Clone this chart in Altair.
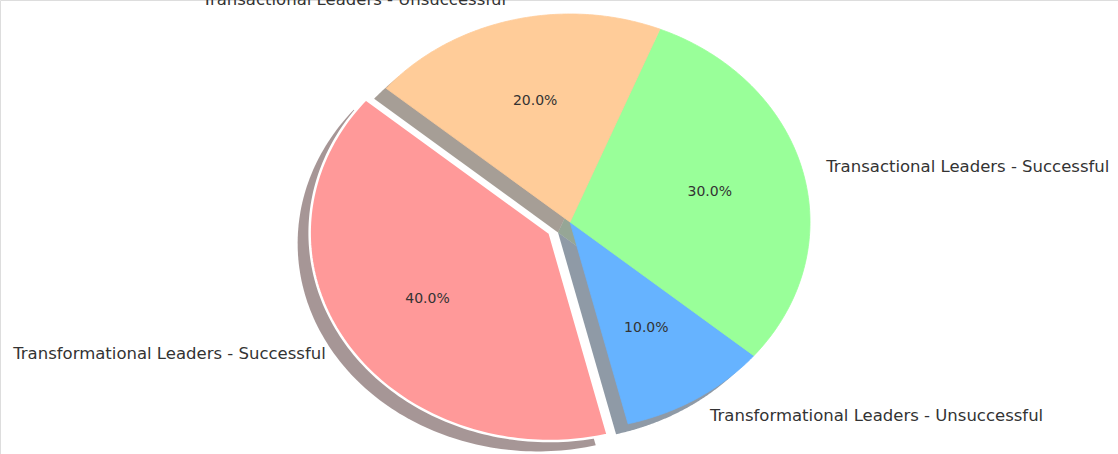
import altair as alt
import pandas as pd

labels = [
    "Transformational Leaders - Successful",
    "Transformational Leaders - Unsuccessful",
    "Transactional Leaders - Successful",
    "Transactional Leaders - Unsuccessful",
]
sizes = [40, 10, 30, 20]
explode = [0.1, 0, 0, 0]
colors = ["#ff9999", "#66b3ff", "#99ff99", "#ffcc99"]
shadow_colors = ["#4d2e2e", "#1f364d", "#2e4d2e", "#4d3d2e"]

START_ANGLE = 140  # degrees, counter-clockwise from 3 o'clock
STEPS = 120        # arc resolution of each wedge outline
SHADOW_DX = -0.05
SHADOW_DY = -0.05

df = pd.DataFrame({"label": labels, "size": sizes, "explode": explode,
                   "idx": list(range(len(labels)))})

# x: 1 unit = 240 px, y: 1 unit = 208 px (the reference pie is an ellipse)
x_scale = alt.Scale(domain=[-2.375, 2.2833], nice=False, zero=False)
y_scale = alt.Scale(domain=[-1.1154, 1.0673], nice=False, zero=False)

base = (
    alt.Chart(df)
    .transform_window(cum="sum(size)", sort=[alt.SortField("idx")], frame=[None, 0])
    .transform_calculate(start="datum.cum - datum.size")
    .transform_calculate(ang=f"({START_ANGLE} + 3.6*(datum.cum - datum.size/2))*PI/180")
    .transform_calculate(cx="datum.explode*cos(datum.ang)")
    .transform_calculate(cy="datum.explode*sin(datum.ang)")
)

outline = (
    base.transform_calculate(step=f"sequence(0, {STEPS + 2})")
    .transform_flatten(["step"])
    .transform_calculate(a=f"({START_ANGLE} + 3.6*(datum.start + datum.size*min(datum.step, {STEPS})/{STEPS}))*PI/180")
    .transform_calculate(rr=f"datum.step > {STEPS} ? 0 : 1")
    .transform_calculate(px="datum.cx + datum.rr*cos(datum.a)")
    .transform_calculate(py="datum.cy + datum.rr*sin(datum.a)")
)


def wedge_enc(xf, yf, pal):
    return dict(
        x=alt.X(f"{xf}:Q", scale=x_scale, axis=None),
        y=alt.Y(f"{yf}:Q", scale=y_scale, axis=None),
        order=alt.Order("step:Q"),
        detail="label:N",
        color=alt.Color("label:N", scale=alt.Scale(domain=labels, range=pal), legend=None),
    )


shadow = (
    outline.transform_calculate(sx=f"datum.px + ({SHADOW_DX})")
    .transform_calculate(sy=f"datum.py + ({SHADOW_DY})")
    .mark_line(filled=True, interpolate="linear-closed", fillOpacity=0.5, strokeWidth=0)
    .encode(**wedge_enc("sx", "sy", shadow_colors))
)

wedges = (
    outline.transform_filter("datum.idx > 0")
    .mark_line(filled=True, interpolate="linear-closed", fillOpacity=1)
    .encode(**wedge_enc("px", "py", colors),
            stroke=alt.Stroke("label:N", scale=alt.Scale(domain=labels, range=colors), legend=None),
            strokeWidth=alt.value(0.8))
)

wedge_exp = (
    outline.transform_filter("datum.idx == 0")
    .mark_line(filled=True, interpolate="linear-closed", fillOpacity=1,
               stroke="white", strokeWidth=2.5, strokeJoin="miter")
    .encode(**wedge_enc("px", "py", colors))
)

pct = (
    base.transform_calculate(tx="datum.cx + 0.6*cos(datum.ang)")
    .transform_calculate(ty="datum.cy + 0.6*sin(datum.ang)")
    .transform_calculate(txt="format(datum.size, '.1f') + '%'")
    .mark_text(font="DejaVu Sans", fontSize=14, color="#333333", align="center", baseline="middle")
    .encode(x=alt.X("tx:Q", scale=x_scale, axis=None), y=alt.Y("ty:Q", scale=y_scale, axis=None),
            text="txt:N")
)


def name_layer(cond, align):
    return (
        base.transform_calculate(lx="datum.cx + 1.1*cos(datum.ang)")
        .transform_calculate(ly="datum.cy + 1.1*sin(datum.ang)")
        .transform_filter(cond)
        .mark_text(font="DejaVu Sans", fontSize=16.5, color="#333333", align=align, baseline="middle")
        .encode(x=alt.X("lx:Q", scale=x_scale, axis=None), y=alt.Y("ly:Q", scale=y_scale, axis=None),
                text="label:N")
    )


names_right = name_layer("cos(datum.ang) >= 0", "left")
names_left = name_layer("cos(datum.ang) < 0", "right")

chart = (
    alt.layer(shadow, wedges, wedge_exp, pct, names_right, names_left)
    .resolve_scale(color="independent", stroke="independent")
    .properties(width=1118, height=454, padding=0, autosize=alt.AutoSizeParams(type="none"))
    .configure_view(stroke=None)
    .configure(background="white")
)

chart.save("out.html", embed_options={"renderer": "svg", "actions": False})
